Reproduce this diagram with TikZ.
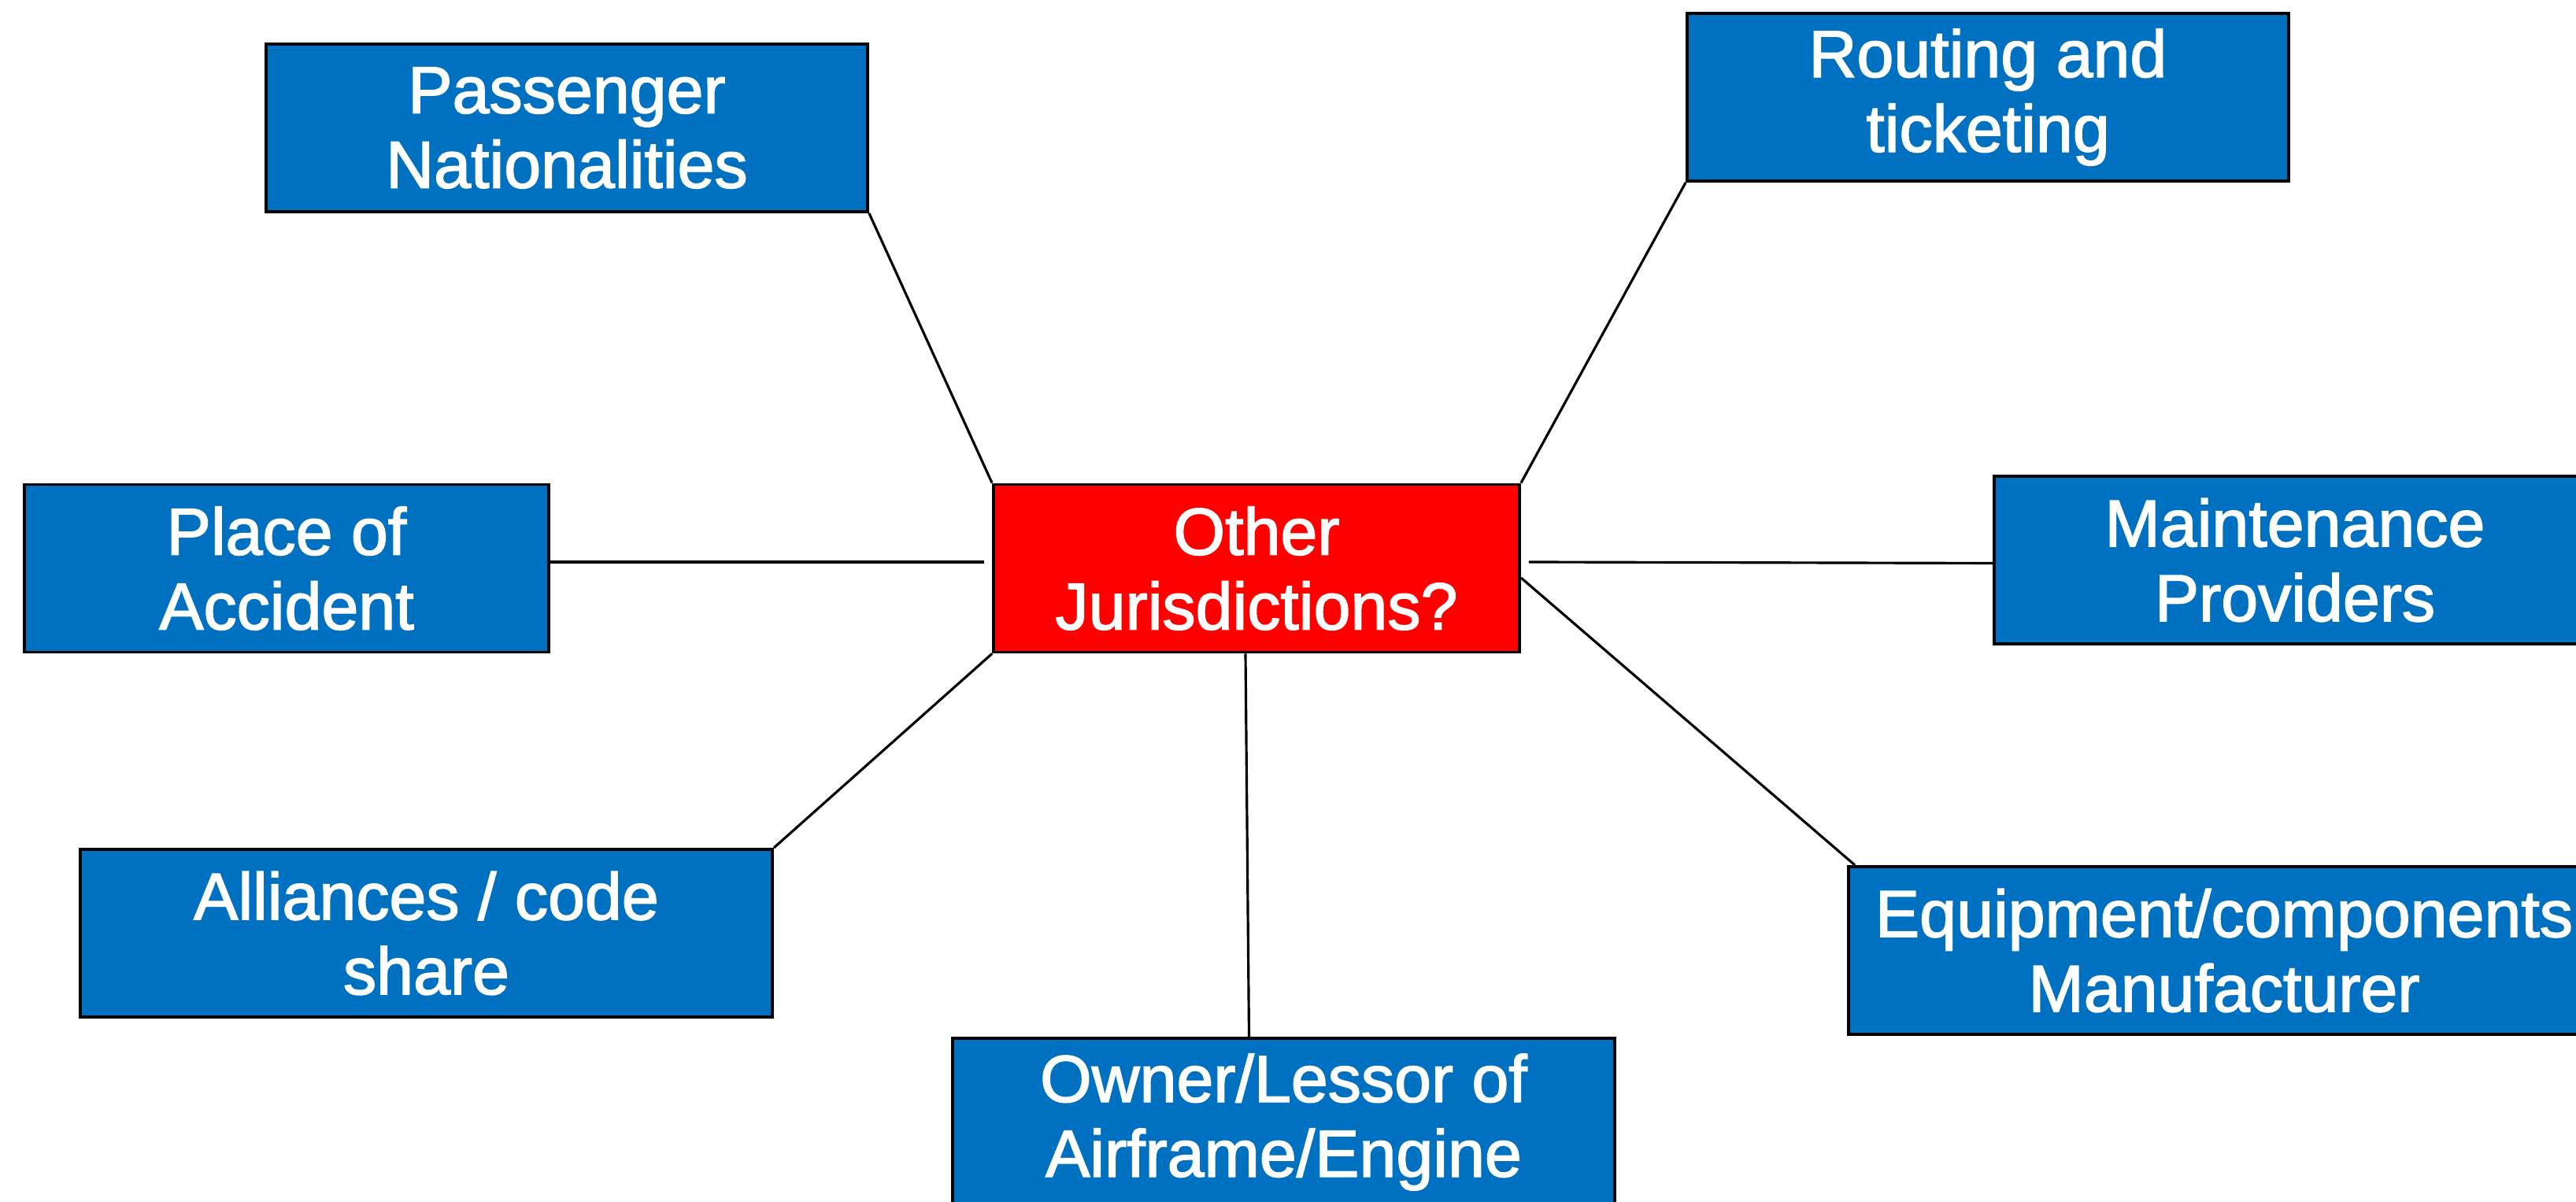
\documentclass[tikz,border=0pt]{standalone}
\usepackage{fontspec}
\setmainfont{Liberation Sans}
\usetikzlibrary{calc}
\definecolor{boxblue}{RGB}{0,112,192}
\definecolor{boxred}{RGB}{255,0,0}
\newcommand{\heavytext}{\special{pdf:literal direct 2 Tr 0.45 w}}
\tikzset{
  topic/.style={draw=black, line width=1.1pt, fill=boxblue, text=white,
    align=center, inner sep=0pt, minimum height=2.13cm,
    font=\fontsize{24}{27}\selectfont},
  hub/.style={topic, fill=boxred},
  link/.style={draw=black, line width=0.9pt}
}
\begin{document}
\begin{tikzpicture}
\useasboundingbox (0,0) rectangle (32.72,15.27);
\clip (0,0) rectangle (32.72,15.27);
\fill[white] (0,0) rectangle (32.72,15.27);

\node[hub, minimum width=6.68cm] (other) at (15.96,8.05) {\heavytext Other\\Jurisdictions?};
\node[topic, minimum width=7.64cm] (pass) at (7.20,13.645) {\heavytext Passenger\\Nationalities};
\node[topic, minimum width=7.64cm] (rout) at (25.25,14.035) {\heavytext Routing and\\ticketing};
\node[topic, minimum width=6.66cm] (place) at (3.64,8.05) {\heavytext Place of\\Accident};
\node[topic, minimum width=7.64cm] (maint) at (29.15,8.155) {\heavytext Maintenance\\Providers};
\node[topic, minimum width=8.79cm] (alli) at (5.415,3.415) {\heavytext Alliances / code\\share};
\node[topic, minimum width=8.41cm] (owner) at (16.305,1.015) {\heavytext Owner/Lessor of\\Airframe/Engine};
\node[topic, minimum width=9.54cm] (equip) at (28.25,3.195) {\heavytext Equipment/components\\Manufacturer};

\draw[link] (pass.south east) -- (other.north west);
\draw[link] (rout.south west) -- (other.north east);
\draw[link] ($(place.east)+(0,0.08)$) -- ($(other.west)+(-0.1,0.08)$);
\draw[link] ($(other.east)+(0.1,0.08)$) -- ($(maint.west)+(0,-0.04)$);
\draw[link] (alli.north east) -- (other.south west);
\draw[link] ($(other.south)+(-0.14,0)$) -- ($(owner.north)+(-0.44,0)$);
\draw[link] ($(other.east)+(0,-0.12)$) -- ($(equip.north west)+(0.1,0)$);
\end{tikzpicture}
\end{document}
